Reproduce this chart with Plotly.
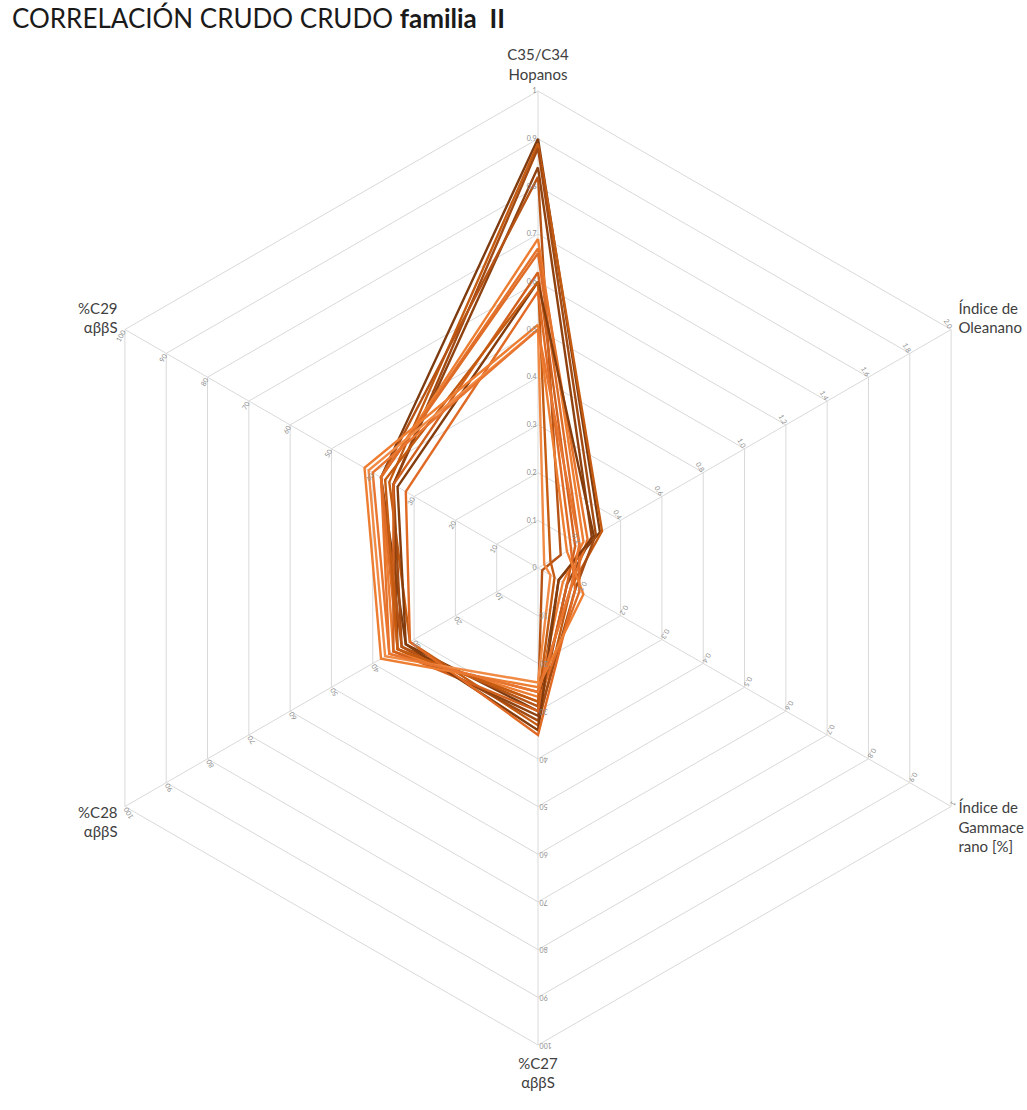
import plotly.graph_objects as go

# ---------------- data ----------------
axis_labels = ["C35/C34<br>Hopanos", "Índice de<br>Oleanano", "Índice de<br>Gammace<br>rano [%]",
               "%C27<br>αββS", "%C28<br>αββS", "%C29<br>αββS"]
axis_max = [1.0, 2.0, 1.0, 100.0, 100.0, 100.0]

hopanos     = [0.90, 0.89, 0.88, 0.84, 0.82, 0.69, 0.67, 0.66, 0.62, 0.60, 0.60, 0.58, 0.51, 0.50, 0.50]
oleanano    = [0.30, 0.31, 0.28, 0.26, 0.11, 0.22, 0.24, 0.20, 0.18, 0.27, 0.06, 0.16, 0.14, 0.03, 0.20]
gammacerano = [0.05, 0.08, 0.09, 0.07, 0.01, 0.06, 0.08, 0.10, 0.07, 0.05, 0.04, 0.09, 0.11, 0.03, 0.08]
c27         = [30, 33, 32, 31, 29, 27, 26, 28, 30, 34, 28, 35, 25, 24, 26]
c28         = [32, 31, 33, 34, 33, 35, 36, 34, 35, 32, 34, 31, 38, 37, 36]
c29         = [38, 36, 35, 35, 38, 38, 38, 38, 35, 34, 37, 32, 42, 41, 40]
line_colors = ["#7F3B10", "#C55A11", "#A34A12", "#8F4210", "#B65314", "#ED7D31", "#E5722B", "#DE6B26",
               "#D2611E", "#843C0C", "#C55A11", "#E06A24", "#ED7D31", "#F08A45", "#E87530"]

# radial tick labels for each axis
ticks_hopanos = [0, 0.1, 0.2, 0.3, 0.4, 0.5, 0.6, 0.7, 0.8, 0.9, 1.0]
ticktext_hopanos = ["0", "0.1", "0.2", "0.3", "0.4", "0.5", "0.6", "0.7", "0.8", "0.9", "1"]
ticks_oleanano = [0.2, 0.4, 0.6, 0.8, 1.0, 1.2, 1.4, 1.6, 1.8, 2.0]
ticktext_oleanano = ["0.2", "0.4", "0.6", "0.8", "1.0", "1.2", "1.4", "1.6", "1.8", "2.0"]
ticks_gamma = [0.1, 0.2, 0.3, 0.4, 0.5, 0.6, 0.7, 0.8, 0.9, 1.0]
ticktext_gamma = ["0.1", "0.2", "0.3", "0.4", "0.5", "0.6", "0.7", "0.8", "0.9", "1"]
ticks_pct = [10, 20, 30, 40, 50, 60, 70, 80, 90, 100]
ticktext_pct = ["10", "20", "30", "40", "50", "60", "70", "80", "90", "100"]

# ---------------- figure ----------------
W, H = 1027, 1110
cx, cy, R = 538, 568, 477
dom_x = [(cx - R) / W, (cx + R) / W]
dom_y = [(H - cy - R) / H, (H - cy + R) / H]

fig = go.Figure()

series = list(zip(hopanos, oleanano, gammacerano, c27, c28, c29))
for i, vals in enumerate(series):
    r = [v / m for v, m in zip(vals, axis_max)]
    fig.add_trace(go.Scatterpolar(
        r=r + [r[0]], theta=axis_labels + [axis_labels[0]],
        mode="lines", line=dict(color=line_colors[i], width=2.4),
        showlegend=False, subplot="polar", hoverinfo="skip"))

grid = "#d9d9d9"
fig.update_layout(
    width=W, height=H,
    margin=dict(l=0, r=0, t=0, b=0),
    paper_bgcolor="white",
    font=dict(family="Lato, Open Sans, sans-serif", color="#404040"),
    title=dict(text="CORRELACIÓN CRUDO CRUDO <b>familia  II</b>", x=12 / W, xanchor="left",
               y=1 - 10 / H, yanchor="top", font=dict(size=26, color="#1a1a1a", family="Lato, Open Sans, sans-serif")),
    polar=dict(
        domain=dict(x=dom_x, y=dom_y),
        bgcolor="rgba(0,0,0,0)",
        gridshape="linear",
        angularaxis=dict(direction="clockwise", rotation=90, type="category",
                         categoryarray=axis_labels, categoryorder="array",
                         showline=True, linecolor=grid, linewidth=1,
                         gridcolor=grid, gridwidth=1,
                         ticks="outside", ticklen=5, tickcolor="rgba(0,0,0,0)",
                         tickfont=dict(size=15, color="#404040")),
        radialaxis=dict(range=[0, 1], tickvals=ticks_hopanos, showticklabels=False,
                        showline=False, ticks="", gridcolor=grid, gridwidth=1),
    ),
)

# overlay polar subplots carrying each axis' own scale labels
axis_specs = [
    (90, [0, axis_max[0]], ticks_hopanos, ticktext_hopanos),
    (30, [0, axis_max[1]], ticks_oleanano, ticktext_oleanano),
    (-30, [0, axis_max[2]], ticks_gamma, ticktext_gamma),
    (-90, [0, axis_max[3]], ticks_pct, ticktext_pct),
    (210, [0, axis_max[4]], ticks_pct, ticktext_pct),
    (150, [0, axis_max[5]], ticks_pct, ticktext_pct),
]
for k, (ang, rng, tv, tt) in enumerate(axis_specs):
    name = f"polar{k + 2}"
    fig.add_trace(go.Scatterpolar(r=[], theta=[], subplot=name, showlegend=False,
                                  mode="lines", hoverinfo="skip"))
    fig.update_layout(**{name: dict(
        domain=dict(x=dom_x, y=dom_y),
        bgcolor="rgba(0,0,0,0)",
        angularaxis=dict(visible=False, rotation=90, direction="clockwise"),
        radialaxis=dict(range=rng, angle=ang, tickangle=90, tickvals=tv, ticktext=tt,
                        showgrid=False, showline=False, ticks="", side="counterclockwise",
                        tickfont=dict(size=7, color="#8c8c8c")),
    )})

fig.write_html("out.html")
